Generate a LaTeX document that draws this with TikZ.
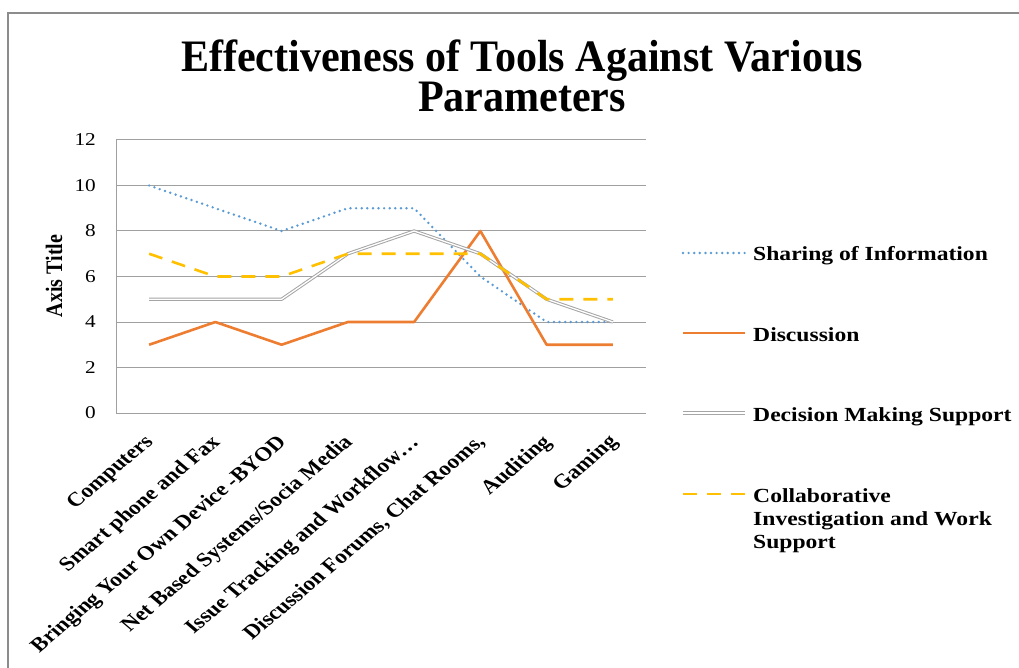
\documentclass[tikz,border=0pt]{standalone}
\usepackage{fontspec}
\setmainfont{Liberation Serif}
\newfontfamily\widefont{Liberation Serif}[FakeStretch=1.18]
\newfontfamily\narrowfont{Liberation Serif}[FakeStretch=0.935]
\definecolor{sblue}{HTML}{5B9BD5}
\definecolor{sorange}{HTML}{ED7D31}
\definecolor{sgray}{HTML}{A5A5A5}
\definecolor{sgold}{HTML}{FFC000}
\definecolor{gridc}{HTML}{A0A0A0}
\definecolor{framec}{HTML}{8C8C8C}
\tikzset{
  gridline/.style={draw=gridc, line width=1pt},
  sharing/.style={draw=sblue, line width=2.7pt, line cap=round, dash pattern=on 0pt off 5.6pt},
  discussion/.style={draw=sorange, line width=2.6pt, line join=round},
  decision/.style={draw=sgray, double=white, line width=1pt, double distance=1.3pt, line join=round},
  collab/.style={draw=sgold, line width=2.6pt, dash pattern=on 14pt off 10pt},
  ticklab/.style={anchor=east, inner sep=0pt, font=\widefont\fontsize{18}{20}\selectfont},
  catlab/.style={anchor=north east, xscale=1.18, rotate=45, transform shape, inner sep=0pt, font=\bfseries\fontsize{19.8}{22}\selectfont},
  leglab/.style={inner sep=0pt, align=left, font=\widefont\bfseries\fontsize{20}{23.3}\selectfont},
}
\begin{document}
\begin{tikzpicture}[x=1pt,y=-1pt]
\useasboundingbox (0,0) rectangle (1019,668);
% outer frame
\draw[framec, line width=1.2pt] (8,668) -- (8,13) -- (1019,13);
% title
\node[font=\narrowfont\bfseries\fontsize{45}{40}\selectfont, align=center, anchor=north, inner sep=0pt] (title) at (522,40)
  {Effectiveness of Tools Against Various\\Parameters};
% grid
\foreach \v in {0,...,6} {
  \draw[gridline] (116,{413-45.5*\v}) -- (646,{413-45.5*\v});
}
\draw[gridline] (116,140) -- (116,413);
% y labels
\foreach \v in {0,2,...,12} {
  \node[ticklab] (y\v) at (96,{413-22.75*\v}) {\v};
}
% axis title
\node[xscale=1.18, rotate=90, transform shape, inner sep=0pt, font=\bfseries\fontsize{20}{22}\selectfont] (ytitle) at (54,276) {Axis Title};
% category labels
\foreach \lab [count=\i from 0] in {Computers, Smart phone and Fax, Bringing Your Own Device -BYOD, Net Based Systems/Socia Media, Issue Tracking and Workflow…, {Discussion Forums, Chat Rooms,}, Auditing, Gaming} {
  \node[catlab] (c\i) at ({116+66.25*(\i+0.5)-6},433) {\lab};
}
% data coordinates
\foreach \a/\b/\c/\d [count=\i from 0] in {10/3/5/7, 9/4/5/6, 8/3/5/6, 9/4/7/7, 9/4/8/7, 6/8/7/7, 4/3/5/5, 4/3/4/5} {
  \coordinate (s\i) at ({116+66.25*(\i+0.5)},{413-22.75*\a});
  \coordinate (d\i) at ({116+66.25*(\i+0.5)},{413-22.75*\b});
  \coordinate (m\i) at ({116+66.25*(\i+0.5)},{413-22.75*\c});
  \coordinate (k\i) at ({116+66.25*(\i+0.5)},{413-22.75*\d});
}
\draw[sharing] (s0) \foreach \i in {1,...,7} { -- (s\i) };
\draw[discussion] (d0) \foreach \i in {1,...,7} { -- (d\i) };
\draw[decision] (m0) \foreach \i in {1,...,7} { -- (m\i) };
\draw[collab] (k0) \foreach \i in {1,...,7} { -- (k\i) };
% legend
\coordinate (la1) at (683,253); \coordinate (lb1) at (745,253);
\coordinate (la2) at (683,333); \coordinate (lb2) at (745,333);
\coordinate (la3) at (683,413); \coordinate (lb3) at (745,413);
\coordinate (la4) at (683,494); \coordinate (lb4) at (745,494);
\draw[sharing] (la1) -- (lb1);
\draw[discussion] (la2) -- (lb2);
\draw[decision] (la3) -- (lb3);
\draw[collab] (la4) -- (lb4);
\node[leglab, anchor=base west] (t1) at (753,261) {Sharing of Information};
\node[leglab, anchor=base west] (t2) at (753,341) {Discussion};
\node[leglab, anchor=base west] (t3) at (753,421) {Decision Making Support};
\node[leglab, anchor=north west] (t4) at (753,488.3) {Collaborative\\Investigation and Work\\Support};
\end{tikzpicture}
\end{document}
